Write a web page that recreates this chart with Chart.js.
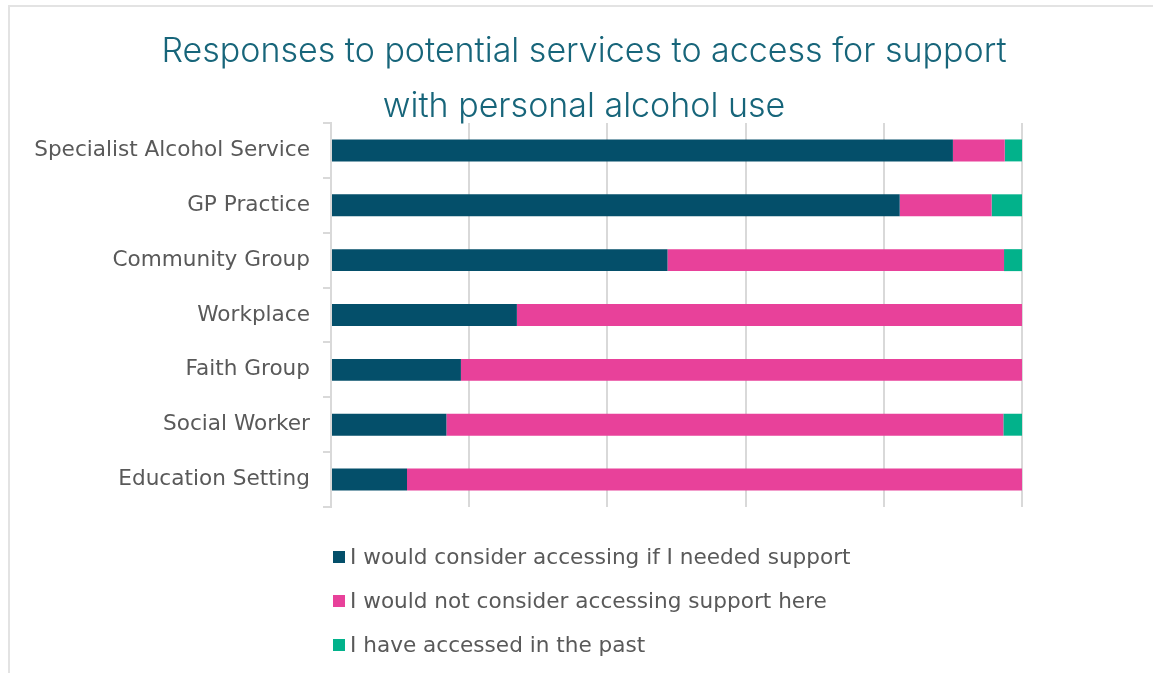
<!DOCTYPE html>
<html>
<head>
<meta charset="utf-8">
<script src="https://cdn.jsdelivr.net/npm/chart.js@4.4.1/dist/chart.umd.min.js"></script>
<style>
  html, body { margin: 0; padding: 0; background: #fff; }
  #wrap { position: relative; width: 1153px; height: 673px; overflow: hidden; }
  #frame { position: absolute; left: 8px; top: 5px; width: 1200px; height: 700px;
           border-top: 2px solid #e3e3e3; border-left: 2px solid #e3e3e3; box-sizing: border-box; }
  #myChart { position: absolute; left: 0; top: 0; }
</style>
</head>
<body>
<div id="wrap">
  <div id="frame"></div>
  <canvas id="myChart" width="1153" height="673"></canvas>
</div>
<script>
const titulo = ['Responses to potential services to access for support', 'with personal alcohol use']

const servicos = [
  'Specialist Alcohol Service',
  'GP Practice',
  'Community Group',
  'Workplace',
  'Faith Group',
  'Social Worker',
  'Education Setting'
]

// percent of respondents per service
const consideraria = [90.0, 82.3, 48.7, 26.9, 18.8, 16.7, 11.0]
const naoConsideraria = [7.5, 13.3, 48.7, 73.1, 81.2, 80.6, 89.0]
const jaAcessou = [2.5, 4.4, 2.6, 0, 0, 2.7, 0]

const nomesSeries = [
  'I would consider accessing if I needed support',
  'I would not consider accessing support here',
  'I have accessed in the past'
]
const cores = ['#044f6a', '#e8419a', '#02b28b']

const fonteTexto = '"DejaVu Sans", sans-serif'
const cinzaTexto = '#595959'
const cinzaGrade = '#d9d9d9'

// title and legend drawn straight onto the canvas
const textosExtras = {
  id: 'textosExtras',
  afterDraw(chart) {
    const ctx = chart.ctx
    ctx.save()
    ctx.fillStyle = '#17657a'
    ctx.font = '300 34px Inter, Lato, sans-serif'
    ctx.textAlign = 'center'
    ctx.textBaseline = 'middle'
    ctx.fillText(titulo[0], 584, 52)
    ctx.fillText(titulo[1], 584, 107)

    ctx.textAlign = 'left'
    ctx.font = '21.6px ' + fonteTexto
    chart.data.datasets.forEach((ds, i) => {
      const y = 557 + i * 44
      ctx.fillStyle = ds.backgroundColor
      ctx.fillRect(333, y - 6, 12, 12)
      ctx.fillStyle = cinzaTexto
      ctx.fillText(ds.label, 350, y + 1)
    })
    ctx.restore()
  }
}

const makeDatasets = () => [consideraria, naoConsideraria, jaAcessou].map((valores, i) => ({
  label: nomesSeries[i],
  data: valores,
  backgroundColor: cores[i],
  borderWidth: 0,
  barPercentage: 0.4,
  categoryPercentage: 1
}))

new Chart(document.getElementById('myChart'), {
  type: 'bar',
  data: { labels: servicos, datasets: makeDatasets() },
  plugins: [textosExtras],
  options: {
    responsive: false,
    animation: false,
    indexAxis: 'y',
    layout: { padding: { left: 0, right: 131, top: 123, bottom: 166 } },
    plugins: {
      legend: { display: false },
      title: { display: false },
      tooltip: { enabled: false }
    },
    scales: {
      x: {
        stacked: true,
        min: 0,
        max: 100,
        ticks: { display: false, stepSize: 20 },
        grid: { color: cinzaGrade, lineWidth: 2, drawTicks: false },
        border: { display: false },
        afterFit: (s) => { s.height = 0 }
      },
      y: {
        stacked: true,
        ticks: { color: cinzaTexto, font: { family: fonteTexto, size: 21.6 }, padding: 13 },
        grid: { drawOnChartArea: false, color: cinzaGrade, lineWidth: 2, tickLength: 8 },
        border: { color: cinzaGrade, width: 2 },
        afterFit: (s) => { s.width = 331 }
      }
    }
  }
})
</script>
</body>
</html>
